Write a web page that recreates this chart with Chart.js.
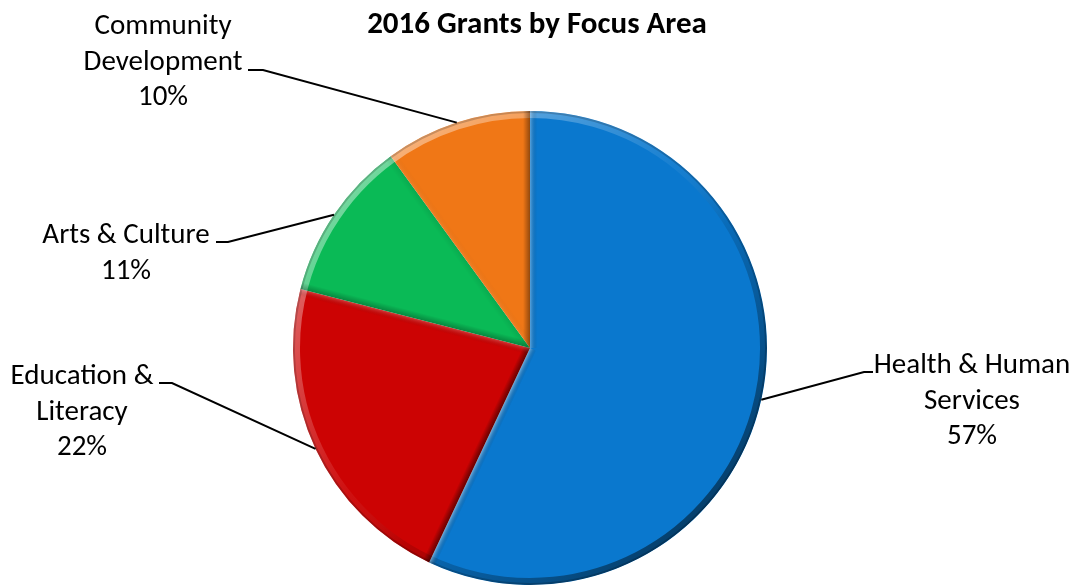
<!DOCTYPE html>
<html>
<head>
<meta charset="utf-8">
<script src="https://cdn.jsdelivr.net/npm/chart.js@4/dist/chart.umd.min.js"></script>
<style>
  html, body { margin: 0; padding: 0; background: #fff; }
  #wrap { width: 1075px; height: 586px; position: relative; }
</style>
</head>
<body>
<div id="wrap"><canvas id="grantsChart"></canvas></div>
<script>
// 2016 Grants by Focus Area - pie with outside labels and leader lines

const chartTitle = '2016 Grants by Focus Area';
const categories = ['Health & Human Services', 'Education & Literacy', 'Arts & Culture', 'Community Development'];
const shares = [57, 22, 11, 10];
const labelLines = [['Health & Human', 'Services'], ['Education &', 'Literacy'], ['Arts & Culture'], ['Community', 'Development']];
const sliceColors = ['#0a78ce', '#cc0303', '#0aba56', '#f07716'];

const FONT = 'Carlito, Calibri, Lato, sans-serif';

// where each label sits: text centre x, first baseline, elbow of leader, end of short tick
const labelPlacement = [
  { x: 972, y: 373, elbow: [864, 372], tickTo: 873 },
  { x: 82, y: 384, elbow: [172, 383], tickTo: 159 },
  { x: 126, y: 243, elbow: [228, 242], tickTo: 216 },
  { x: 163, y: 34, elbow: [263, 70], tickTo: 248 }
];

const bevelPlugin = {
  id: 'bevel',
  afterDatasetDraw(chart) {
    const ctx = chart.ctx;
    const meta = chart.getDatasetMeta(0);
    const L = [-Math.SQRT1_2, -Math.SQRT1_2];
    const W = 7;
    meta.data.forEach(arc => {
      const { x, y, startAngle, endAngle, outerRadius: r } = arc.getProps(['x', 'y', 'startAngle', 'endAngle', 'outerRadius'], true);
      ctx.save();
      ctx.beginPath();
      ctx.moveTo(x, y);
      ctx.arc(x, y, r, startAngle, endAngle);
      ctx.closePath();
      ctx.clip();

      // rim: light toward upper left, dark toward lower right
      const g = ctx.createLinearGradient(x - r * 0.75, y - r * 0.75, x + r * 0.75, y + r * 0.75);
      g.addColorStop(0, 'rgba(255,255,255,0.45)');
      g.addColorStop(0.45, 'rgba(255,255,255,0.05)');
      g.addColorStop(0.6, 'rgba(0,0,0,0.1)');
      g.addColorStop(1, 'rgba(0,0,0,0.5)');
      ctx.strokeStyle = g;
      ctx.lineWidth = 7;
      ctx.beginPath();
      ctx.arc(x, y, r - 3.5, startAngle - 0.1, endAngle + 0.1);
      ctx.stroke();
      ctx.strokeStyle = 'rgba(0,0,0,0.18)';
      ctx.lineWidth = 2;
      ctx.beginPath();
      ctx.arc(x, y, r - 1, startAngle - 0.1, endAngle + 0.1);
      ctx.stroke();

      // straight edges: a narrow band along each radius
      [[startAngle, startAngle - Math.PI / 2], [endAngle, endAngle + Math.PI / 2]].forEach(([ea, na]) => {
        const nx = Math.cos(na), ny = Math.sin(na);
        const ex = x + Math.cos(ea) * r, ey = y + Math.sin(ea) * r;
        const b = nx * L[0] + ny * L[1];
        const col = b > 0 ? `rgba(255,255,255,${0.45 * b})` : `rgba(0,0,0,${0.55 * -b})`;
        const eg = ctx.createLinearGradient(x, y, x - nx * W, y - ny * W);
        eg.addColorStop(0, col);
        eg.addColorStop(1, 'rgba(0,0,0,0)');
        ctx.fillStyle = eg;
        ctx.beginPath();
        ctx.moveTo(x + nx, y + ny);
        ctx.lineTo(ex + nx, ey + ny);
        ctx.lineTo(ex - nx * W, ey - ny * W);
        ctx.lineTo(x - nx * W, y - ny * W);
        ctx.closePath();
        ctx.fill();
      });
      ctx.restore();
    });
  }
};

const labelPlugin = {
  id: 'outsideLabels',
  afterDraw(chart) {
    const ctx = chart.ctx;
    const meta = chart.getDatasetMeta(0);
    const total = shares.reduce((a, b) => a + b, 0);
    ctx.save();
    // title
    ctx.fillStyle = '#000';
    ctx.textAlign = 'center';
    ctx.textBaseline = 'alphabetic';
    ctx.font = `bold 31px ${FONT}`;
    ctx.fillText(chartTitle, 537, 33);

    ctx.font = `29px ${FONT}`;
    meta.data.forEach((arc, i) => {
      const { x, y, startAngle, endAngle, outerRadius } = arc.getProps(['x', 'y', 'startAngle', 'endAngle', 'outerRadius'], true);
      const mid = (startAngle + endAngle) / 2;
      const p = labelPlacement[i];
      ctx.strokeStyle = '#000';
      ctx.lineWidth = 2;
      ctx.beginPath();
      ctx.moveTo(x + Math.cos(mid) * outerRadius, y + Math.sin(mid) * outerRadius);
      ctx.lineTo(p.elbow[0], p.elbow[1]);
      ctx.lineTo(p.tickTo, p.elbow[1]);
      ctx.stroke();

      const lines = labelLines[i].concat([Math.round(shares[i] / total * 100) + '%']);
      lines.forEach((t, k) => ctx.fillText(t, p.x, p.y + k * 35.5));
    });
    ctx.restore();
  }
};

new Chart(document.getElementById('grantsChart'), {
  type: 'pie',
  data: {
    labels: categories,
    datasets: [{
      data: shares,
      backgroundColor: sliceColors,
      borderWidth: 0
    }]
  },
  options: {
    responsive: true,
    maintainAspectRatio: false,
    animation: false,
    events: [],
    layout: { padding: { top: 111, bottom: 1, left: 0, right: 15 } },
    plugins: {
      legend: { display: false },
      title: { display: false },
      tooltip: { enabled: false }
    }
  },
  plugins: [bevelPlugin, labelPlugin]
});
</script>
</body>
</html>
